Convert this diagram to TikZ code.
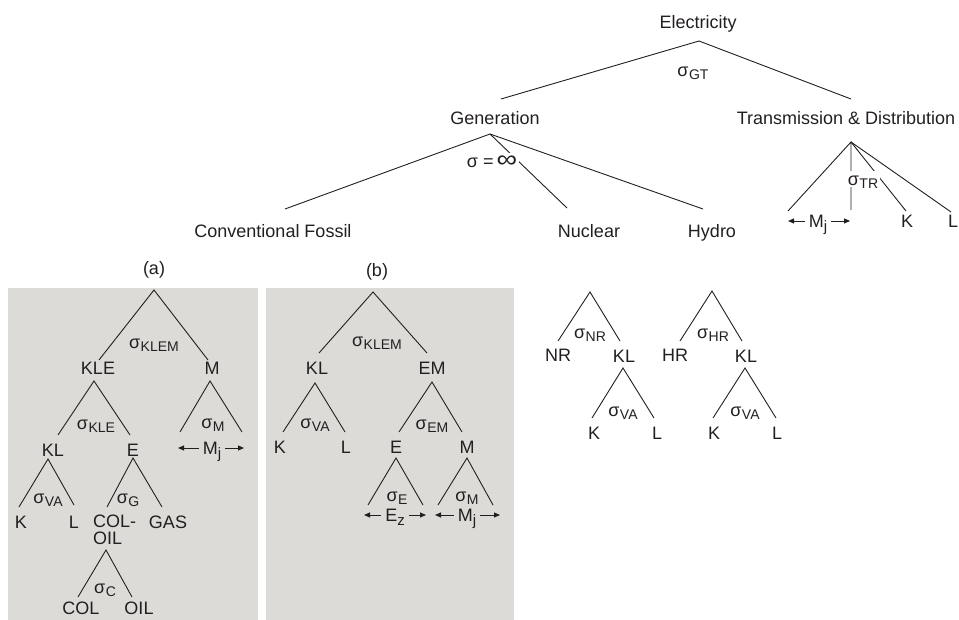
\documentclass[tikz,border=0pt]{standalone}
\usepackage{fontspec}
\setmainfont{Liberation Sans}
\usepackage{graphicx}
\usepackage{tikz}
\usetikzlibrary{arrows.meta}
\definecolor{ink}{HTML}{231F20}
\definecolor{panel}{HTML}{DDDBD8}
\newcommand\sig[1]{σ\kern0.5pt\raisebox{-3pt}{\fontsize{14}{14}\selectfont#1}}
\newcommand\subj[2]{#1\raisebox{-4pt}{\fontsize{15}{15}\selectfont#2}}

\begin{document}
\begin{tikzpicture}[x=1pt, y=-1pt,
  lab/.style={font=\fontsize{18}{20}\selectfont, text=ink, inner sep=0pt,
              text height=13pt, text depth=0pt},
  sub/.style={lab, inner xsep=4pt},
  blank/.style={fill=white, inner sep=1.5pt},
  br/.style={draw=ink, line width=0.9pt},
  arr/.style={-{Triangle[length=6pt,width=5pt]}, draw=ink, line width=0.9pt},
]
\useasboundingbox (0,0) rectangle (959,620);
\fill[panel] (8,288) rectangle (258,620);
\fill[panel] (266,288) rectangle (514,620);

% top level
\node[lab] (elec) at (698,22) {Electricity};
\coordinate (e0) at (699,41);
\node[lab] (gen) at (495,118) {Generation};
\node[lab] (td)  at (846,118) {Transmission \& Distribution};
\node[lab] (sGT) at (693,70) {\sig{GT}};
\draw[br] ([shift={(6,-19)}]gen.center) -- (e0) -- ([shift={(5,-19)}]td.center);

% generation
\coordinate (g0) at (490,134);
\node[lab] (cf)  at (273,231) {Conventional Fossil};
\node[lab] (nuc) at (589,231) {Nuclear};
\node[lab] (hyd) at (712,231) {Hydro};
\draw[br] ([shift={(12,-22)}]cf.center) -- (g0) -- ([shift={(-9,-22)}]hyd.center);
\draw[br] (g0) -- ([shift={(-22,-23)}]nuc.center);
\node[lab, blank] (sInf) at (492,161) {σ =\,\scalebox{1.6}[1.35]{∞}};

% transmission & distribution
\coordinate (t0) at (851,142);
\node[sub] (mjT) at (818,221) {\subj{M}{j}};
\node[lab] (kT) at (907,221) {K};
\node[lab, anchor=west] (lT) at (948,221) {L};
\coordinate (mjTl) at (788,221);
\coordinate (mjTr) at (850,221);
\draw[arr] (mjT.west) -- (mjTl);
\draw[arr] (mjT.east) -- (mjTr);
\draw[br] ([shift={(0,-10)}]mjTl) -- (t0) -- ([shift={(1,-11)}]mjTr);
\draw[br] (t0) -- ([shift={(-1,-10)}]kT.center);
\draw[br] (t0) -- ([shift={(3,-9)}]lT.west);
\node[lab, blank] (sTR) at (863,179) {\sig{TR}};

% panel (a)
\node[lab] (capA) at (154,268) {(a)};
\coordinate (a0) at (154,290);
\node[lab] (kleA) at (98,368) {KLE};
\node[lab] (mA) at (212,368) {M};
\node[lab] (sKLEMa) at (154,342) {\sig{KLEM}};
\draw[br] ([shift={(1,-8)}]kleA.center) -- (a0) -- ([shift={(-4,-8)}]mA.center);
\coordinate (a1) at (94,381);
\node[lab] (klA) at (53,450) {KL};
\node[lab] (eA) at (133,450) {E};
\node[lab] (sKLEa) at (96,423) {\sig{KLE}};
\draw[br] ([shift={(5,-15)}]klA.center) -- (a1) -- ([shift={(-3,-15)}]eA.center);
\coordinate (a2) at (210,381);
\node[sub] (mjA) at (212,448) {\subj{M}{j}};
\coordinate (mjAl) at (178,448);
\coordinate (mjAr) at (244,448);
\draw[arr] (mjA.west) -- (mjAl);
\draw[arr] (mjA.east) -- (mjAr);
\node[lab] (sMa) at (213,422) {\sig{M}};
\draw[br] ([shift={(2,-16)}]mjAl) -- (a2) -- ([shift={(-2,-16)}]mjAr);
\coordinate (a3) at (48,459);
\node[lab] (kA) at (21,522) {K};
\node[lab] (lA) at (74,522) {L};
\node[lab] (sVAa) at (48,497) {\sig{VA}};
\draw[br] ([shift={(-2,-15)}]kA.center) -- (a3) -- ([shift={(0,-17)}]lA.center);
\coordinate (a4) at (133,458);
\node[lab, anchor=west] (colA1) at (93,521) {COL-};
\node[lab, anchor=west] (colA2) at (93,538) {OIL};
\node[lab] (gasA) at (168,522) {GAS};
\node[lab] (sGa) at (128,497) {\sig{G}};
\draw[br] ([shift={(14,-14)}]colA1.west) -- (a4) -- ([shift={(-6,-15)}]gasA.center);
\coordinate (a5) at (106,550);
\node[lab] (colA) at (81,608) {COL};
\node[lab] (oilA) at (139,608) {OIL};
\node[lab] (sCa) at (105,587) {\sig{C}};
\draw[br] ([shift={(-3,-11)}]colA.center) -- (a5) -- ([shift={(-7,-11)}]oilA.center);

% panel (b)
\node[lab] (capB) at (377,270) {(b)};
\coordinate (b0) at (373,292);
\node[lab] (klB) at (317,368) {KL};
\node[lab] (emB) at (432,368) {EM};
\node[lab] (sKLEMb) at (377,340) {\sig{KLEM}};
\draw[br] ([shift={(2,-15)}]klB.center) -- (b0) -- ([shift={(-5,-15)}]emB.center);
\coordinate (b1) at (315,383);
\node[lab] (kB) at (280,447) {K};
\node[lab] (lB) at (346,447) {L};
\node[lab] (sVAb) at (315,422) {\sig{VA}};
\draw[br] ([shift={(3,-15)}]kB.center) -- (b1) -- ([shift={(-1,-15)}]lB.center);
\coordinate (b2) at (432,382);
\node[lab] (eB) at (396,447) {E};
\node[lab] (mB) at (467,447) {M};
\node[lab] (sEMb) at (432,423) {\sig{EM}};
\draw[br] ([shift={(3,-15)}]eB.center) -- (b2) -- ([shift={(-5,-15)}]mB.center);
\coordinate (b3) at (396,458);
\node[sub] (ezB) at (395,515) {\subj{E}{z}};
\coordinate (ezBl) at (364,515);
\coordinate (ezBr) at (426,515);
\draw[arr] (ezB.west) -- (ezBl);
\draw[arr] (ezB.east) -- (ezBr);
\node[lab] (sEb) at (397,495) {\sig{E}};
\draw[br] ([shift={(4,-10)}]ezBl) -- (b3) -- ([shift={(-3,-10)}]ezBr);
\coordinate (b4) at (467,458);
\node[sub] (mjB) at (467,515) {\subj{M}{j}};
\coordinate (mjBl) at (435,515);
\coordinate (mjBr) at (500,515);
\draw[arr] (mjB.west) -- (mjBl);
\draw[arr] (mjB.east) -- (mjBr);
\node[lab] (sMb) at (467,495) {\sig{M}};
\draw[br] ([shift={(3,-10)}]mjBl) -- (b4) -- ([shift={(-7,-10)}]mjBr);

% nuclear
\coordinate (n0) at (590,292);
\node[lab] (nrN) at (558,355) {NR};
\node[lab] (klN) at (624,356) {KL};
\node[lab] (sNR) at (590,332) {\sig{NR}};
\draw[br] ([shift={(0,-14)}]nrN.center) -- (n0) -- ([shift={(-4,-15)}]klN.center);
\coordinate (n1) at (623,368);
\node[lab] (kN) at (594,433) {K};
\node[lab] (lN) at (657,433) {L};
\node[lab] (sVAn) at (623,410) {\sig{VA}};
\draw[br] ([shift={(-2,-15)}]kN.center) -- (n1) -- ([shift={(-3,-15)}]lN.center);

% hydro
\coordinate (h0) at (712,291);
\node[lab] (hrH) at (675,355) {HR};
\node[lab] (klH) at (746,356) {KL};
\node[lab] (sHR) at (713,332) {\sig{HR}};
\draw[br] ([shift={(5,-14)}]hrH.center) -- (h0) -- ([shift={(-4,-15)}]klH.center);
\coordinate (h1) at (745,368);
\node[lab] (kH) at (714,433) {K};
\node[lab] (lH) at (777,433) {L};
\node[lab] (sVAh) at (745,410) {\sig{VA}};
\draw[br] ([shift={(-1,-15)}]kH.center) -- (h1) -- ([shift={(-1,-15)}]lH.center);
\end{tikzpicture}
\end{document}
